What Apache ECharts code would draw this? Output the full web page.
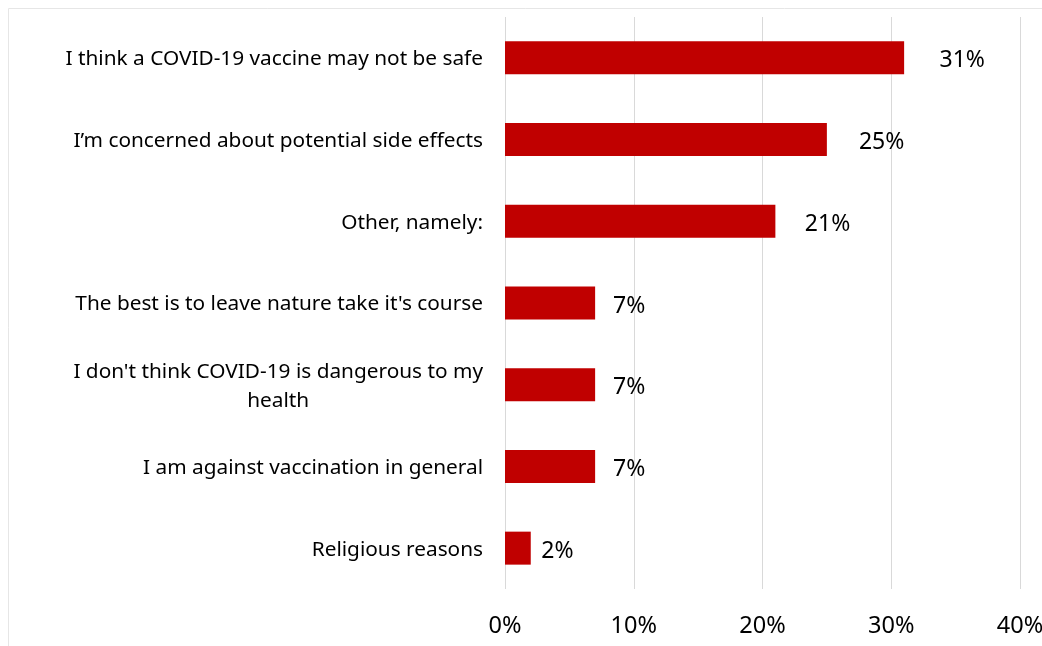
<!DOCTYPE html>
<html>
<head>
<meta charset="utf-8">
<script src="https://cdn.jsdelivr.net/npm/echarts@6/dist/echarts.min.js"></script>
<style>
  html, body { margin: 0; padding: 0; background: #fff; }
  #chart { width: 1042px; height: 646px; }
</style>
</head>
<body>
<div id="chart"></div>
<script>
// Reasons for not wanting a COVID-19 vaccine (share of respondents)
const categories = [
  "I think a COVID-19 vaccine may not be safe",
  "I\u2019m concerned about potential side effects",
  "Other, namely:",
  "The best is to leave nature take it's course",
  "I don't think COVID-19 is dangerous to my health",
  "I am against vaccination in general",
  "Religious reasons"
];
const shares = [31, 25, 21, 7, 7, 7, 2];
const tickValues = [0, 10, 20, 30, 40];

const FONT = "Noto Sans";
const CAT_SIZE = 20.8;
const LABEL_MAX_WIDTH = 425;

// Greedy word wrap measured with the same font the axis uses.
const measureCtx = document.createElement('canvas').getContext('2d');
measureCtx.font = CAT_SIZE + 'px "' + FONT + '"';
function wrapLines(text) {
  const words = text.split(' ');
  const lines = [];
  let cur = '';
  words.forEach(w => {
    const trial = cur ? cur + ' ' + w : w;
    if (cur && measureCtx.measureText(trial).width > LABEL_MAX_WIDTH) {
      lines.push(cur);
      cur = w;
    } else {
      cur = trial;
    }
  });
  if (cur) lines.push(cur);
  return lines;
}
// Wrapped labels keep their lines centred on each other.
function categoryLabel(text) {
  const lines = wrapLines(text);
  if (lines.length === 1) return text;
  return lines.map(l => '{c|' + l + '}').join('\n');
}

const chart = echarts.init(document.getElementById('chart'), null, { renderer: 'canvas' });

chart.setOption({
  backgroundColor: '#ffffff',
  animation: false,
  graphic: [{
    type: 'rect',
    z: -10,
    shape: { x: 8.5, y: 8.5, width: 1200, height: 800 },
    style: { fill: 'none', stroke: '#e6e6e6', lineWidth: 1 }
  }],
  grid: { left: 505, right: 22, top: 17, bottom: 57, outerBoundsMode: 'none' },
  xAxis: {
    type: 'value',
    min: tickValues[0],
    max: tickValues[tickValues.length - 1],
    interval: 10,
    axisLine: { show: false },
    axisTick: { show: false },
    splitLine: { show: true, lineStyle: { color: '#d9d9d9', width: 1 } },
    axisLabel: {
      formatter: v => v + '%',
      fontFamily: FONT, fontSize: 23.5, color: '#000', margin: 25
    }
  },
  yAxis: {
    type: 'category',
    inverse: true,
    data: categories,
    axisLine: { show: false },
    axisTick: { show: false },
    axisLabel: {
      formatter: categoryLabel,
      fontFamily: FONT, fontSize: CAT_SIZE, color: '#000', margin: 22,
      align: 'right', lineHeight: 29, padding: [3, 0, 0, 0],
      rich: {
        c: { align: 'center', fontFamily: FONT, fontSize: CAT_SIZE, color: '#000', lineHeight: 29 }
      }
    }
  },
  series: [{
    type: 'bar',
    data: shares.map(v => ({
      value: v,
      label: { distance: 2 + 6 * Math.sqrt(v) }
    })),
    barWidth: 33,
    itemStyle: { color: '#C00000' },
    label: {
      show: true,
      position: 'right',
      offset: [0, 3],
      formatter: p => p.value + '%',
      fontFamily: FONT, fontSize: 23, color: '#000'
    }
  }]
});
</script>
</body>
</html>
